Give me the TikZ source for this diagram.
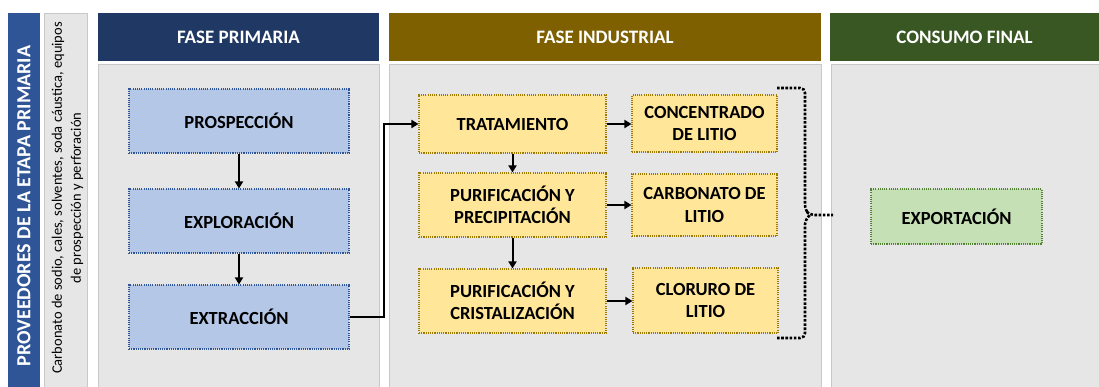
\documentclass[tikz,border=0pt]{standalone}
\usepackage{fontspec}
\setmainfont{Carlito}
\usetikzlibrary{arrows.meta}
\definecolor{navy}{HTML}{203864}
\definecolor{brownh}{HTML}{7F6000}
\definecolor{greenh}{HTML}{385723}
\definecolor{barblue}{HTML}{2F5597}
\definecolor{panelgray}{HTML}{E6E6E6}
\definecolor{panelline}{HTML}{C8C8C8}
\definecolor{bluefill}{HTML}{B4C7E7}
\definecolor{blueline}{HTML}{2F5597}
\definecolor{yelfill}{HTML}{FFE699}
\definecolor{yelline}{HTML}{9C7A00}
\definecolor{grnfill}{HTML}{C5E0B4}
\definecolor{grnline}{HTML}{548235}
\begin{document}
\begin{tikzpicture}[x=1pt,y=-1pt,
  header/.style={fill=#1, draw=none, inner sep=0pt, text=white,
    font=\fontsize{19}{22}\selectfont\bfseries},
  panel/.style={fill=panelgray, draw=panelline, line width=0.8pt, inner sep=0pt},
  boxbase/.style={inner sep=0pt, align=center, line width=1.1pt,
    dash pattern=on 1.1pt off 1.1pt,
    font=\fontsize{18.5}{22.5}\selectfont\bfseries},
  bluebox/.style={boxbase, fill=bluefill, draw=blueline},
  yelbox/.style={boxbase, fill=yelfill, draw=yelline},
  grnbox/.style={boxbase, fill=grnfill, draw=grnline},
  flow/.style={line width=2pt, -{Triangle[length=7pt,width=8pt]}},
  brace/.style={line width=2.6pt, dash pattern=on 2.6pt off 1.6pt, rounded corners=5pt}
]
\useasboundingbox (0,0) rectangle (1099,387);
\fill[white] (0,0) rectangle (1099,387);

% left bars
\node[fill=barblue, inner sep=0pt, minimum width=386pt, minimum height=32pt,
  rotate=90, text=white, font=\fontsize{20}{24}\selectfont\bfseries]
  (prov) at (24,206) {PROVEEDORES DE LA ETAPA PRIMARIA};
\node[panel, minimum width=386pt, minimum height=43pt, rotate=90]
  (insumos) at (65.5,206) {};
\node[rotate=90, align=center, inner sep=0pt, font=\fontsize{14.5}{19}\selectfont]
  (insumostxt) at (67.5,198) {Carbonato de sodio, cales, solventes, soda cáustica, equipos\\de prospección y perforación};

% headers
\node[header=navy, minimum width=281pt, minimum height=48pt] (h1) at (238.5,37) {FASE PRIMARIA};
\node[header=brownh, minimum width=432pt, minimum height=48pt] (h2) at (605,37) {FASE INDUSTRIAL};
\node[header=greenh, minimum width=269pt, minimum height=48pt] (h3) at (964.5,37) {CONSUMO FINAL};

% panels
\node[panel, minimum width=281pt, minimum height=336pt] (p1) at (238.5,232) {};
\node[panel, minimum width=432pt, minimum height=336pt] (p2) at (605,232) {};
\node[panel, minimum width=269pt, minimum height=336pt] (p3) at (965.5,232) {};

% fase primaria
\node[bluebox, minimum width=220pt, minimum height=64pt] (pros) at (239,121) {PROSPECCIÓN};
\node[bluebox, minimum width=220pt, minimum height=64pt] (expl) at (239,221) {EXPLORACIÓN};
\node[bluebox, minimum width=220pt, minimum height=64pt] (extr) at (239,317) {EXTRACCIÓN};
\draw[flow] (pros) -- (expl);
\draw[flow] (expl) -- (extr);

% fase industrial
\node[yelbox, minimum width=187pt, minimum height=58pt] (trat) at (512.5,124) {TRATAMIENTO};
\node[yelbox, minimum width=187pt, minimum height=64pt] (prec) at (512.5,205) {PURIFICACIÓN Y\\PRECIPITACIÓN};
\node[yelbox, minimum width=187pt, minimum height=64pt] (cris) at (512.5,301) {PURIFICACIÓN Y\\CRISTALIZACIÓN};
\node[yelbox, minimum width=145pt, minimum height=57pt] (conc) at (704.5,123.5) {CONCENTRADO\\DE LITIO};
\node[yelbox, minimum width=145pt, minimum height=62pt] (carb) at (704.5,205) {CARBONATO DE\\LITIO};
\node[yelbox, minimum width=145pt, minimum height=65pt] (clor) at (705.5,300.5) {CLORURO DE\\LITIO};

\draw[flow] (extr.east) -- (384,317) |- (trat.west);
\draw[flow] (trat) -- (prec);
\draw[flow] (prec) -- (cris);
\draw[flow] (trat.east) -- (conc.west |- trat.east);
\draw[flow] (prec.east) -- (carb.west |- prec.east);
\draw[flow] (cris.east) -- (clor.west |- cris.east);

% bracket
\coordinate (btop) at (777,88);
\coordinate (bbot) at (777,338);
\coordinate (btip) at (833,215);
\draw[brace] (btop) -- (805,88) -- (805,210) -- (810,215) -- (btip);
\draw[brace] (bbot) -- (805,338) -- (805,220) -- (810,215);

% consumo final
\node[grnbox, minimum width=171pt, minimum height=55pt] (expo) at (956.5,216.5) {EXPORTACIÓN};
\end{tikzpicture}
\end{document}
